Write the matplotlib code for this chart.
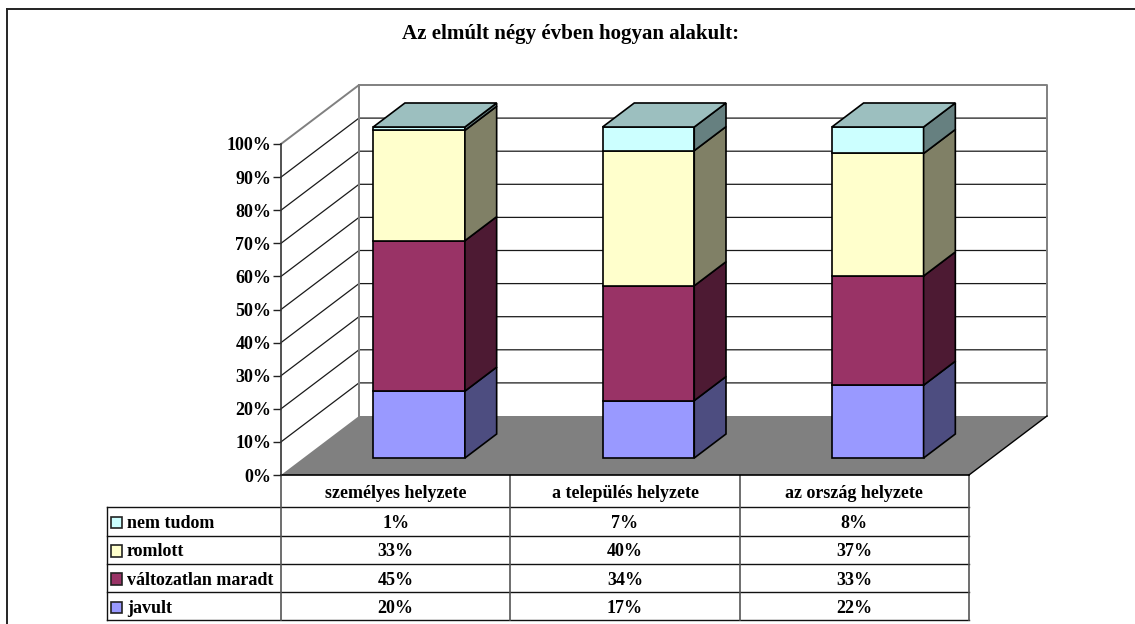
import matplotlib
matplotlib.use('Agg')
import matplotlib.pyplot as plt
from matplotlib.patches import Polygon, Rectangle

plt.rcParams['font.family'] = ['Liberation Serif', 'DejaVu Serif']
plt.rcParams['font.weight'] = 'bold'

W, H = 1135, 624

title = 'Az elmúlt négy évben hogyan alakult:'
categories = ['személyes helyzete', 'a település helyzete', 'az ország helyzete']
series_names = ['javult', 'változatlan maradt', 'romlott', 'nem tudom']
javult = [20, 17, 22]
valtozatlan = [45, 34, 33]
romlott = [33, 40, 37]
nem_tudom = [1, 7, 8]
y_ticks = [0, 10, 20, 30, 40, 50, 60, 70, 80, 90, 100]

series = [javult, valtozatlan, romlott, nem_tudom]
front_cols = ['#9999ff', '#993366', '#ffffcc', '#ccffff']
side_cols = ['#4d4d80', '#4d1a33', '#808066', '#668080']
top_cols = ['#7373bf', '#732650', '#bfbf99', '#9cbfbf']

fig = plt.figure(figsize=(W / 100, H / 100), dpi=100)

# pixel helpers for placing the axes
def px_rect(x0, y0, x1, y1):
    return [x0 / W, 1 - y1 / H, (x1 - x0) / W, (y1 - y0) / H]

# overlay for the outer frame, title and data table (pixel coordinates)
page = fig.add_axes([0, 0, 1, 1], zorder=0)
page.set_xlim(0, W)
page.set_ylim(H, 0)
page.axis('off')

# the front plane of the 3d box is a normal axes: x = category, y = percent
ax = fig.add_axes(px_rect(281, 144, 969, 475), zorder=1)
ax.set_xlim(0, 3)
ax.set_ylim(0, 100)
ax.patch.set_visible(False)
for s in ax.spines.values():
    s.set_visible(False)

# depth of the box in data units
DX = 78 / 688 * 3
DY = 59 / 331 * 100
# bars sit between these fractions of the depth
D0, D1 = 0.288, 0.695
BAR_W = 0.4
BAR_C = 0.504

def pr(x, y, d=0.0):
    return (x + DX * d, y + DY * d)

GRAY = '#808080'
GRID = '#1a1a1a'

# floor
ax.add_patch(Polygon([pr(0, 0), pr(3, 0), pr(3, 0, 1), pr(0, 0, 1)], fc=GRAY, ec='none', clip_on=False, zorder=1))
ax.plot(*zip(pr(0, 0), pr(3, 0)), color='black', lw=1.2, clip_on=False, zorder=2)
ax.plot(*zip(pr(3, 0), pr(3, 0, 1)), color='black', lw=1, clip_on=False, zorder=2)

# gridlines on both walls
for t in y_ticks[1:-1]:
    ax.plot(*zip(pr(0, t), pr(0, t, 1), pr(3, t, 1)), color=GRID, lw=0.9, clip_on=False, zorder=1)

# wall outline
ax.plot(*zip(pr(0, 100), pr(0, 100, 1), pr(3, 100, 1), pr(3, 0, 1)), color=GRAY, lw=1.4, clip_on=False, zorder=1)
ax.plot(*zip(pr(0, 0, 1), pr(0, 100, 1)), color=GRAY, lw=1.4, clip_on=False, zorder=1)
ax.plot([0, 0], [0, 100], color='#333333', lw=1.2, clip_on=False, zorder=2)

# stacked bars, every column scaled to 100 %
for i in range(len(categories)):
    total = sum(s[i] for s in series)
    base = 0
    x0 = i + BAR_C - BAR_W / 2
    x1 = i + BAR_C + BAR_W / 2
    for j, s in enumerate(series):
        top = base + s[i] / total * 100
        ax.add_patch(Polygon([pr(x0, base, D0), pr(x1, base, D0), pr(x1, top, D0), pr(x0, top, D0)],
                             fc=front_cols[j], ec='black', lw=1.2, clip_on=False, zorder=3, joinstyle='miter'))
        ax.add_patch(Polygon([pr(x1, base, D0), pr(x1, base, D1), pr(x1, top, D1), pr(x1, top, D0)],
                             fc=side_cols[j], ec='black', lw=1.2, clip_on=False, zorder=3, joinstyle='miter'))
        base = top
    ax.add_patch(Polygon([pr(x0, 100, D0), pr(x1, 100, D0), pr(x1, 100, D1), pr(x0, 100, D1)],
                         fc=top_cols[3], ec='black', lw=1.2, clip_on=False, zorder=4, joinstyle='miter'))

ax.set_xticks([])
ax.set_yticks(y_ticks)
ax.set_yticklabels([f'{t}%' for t in y_ticks], fontsize=13, fontweight='bold')
ax.tick_params(axis='y', length=5.5, width=1, color='#222222', pad=1.5)

# outer frame, open on the right
page.plot([7.3, 7.3], [H, 9], color='black', lw=1.2)
page.plot([7, W], [9, 9], color='#222222', lw=1.4)

page.text(571, 34, title, ha='center', va='center', fontsize=15.1, fontweight='bold')

# data table
col_x = [281 + 688 / 3 * k for k in range(4)]
row_y = [475, 506.5, 535.5, 563.5, 592, 620]
LEFT = 106.5
TXT_DY = 2.5
for y in row_y[1:]:
    page.plot([LEFT, col_x[-1]], [y, y], color='#111111', lw=1)
for x in col_x:
    page.plot([x, x], [row_y[0], row_y[-1]], color='#555555', lw=1.2)
page.plot([LEFT, LEFT], [row_y[1], row_y[-1]], color='#111111', lw=1)

for k, name in enumerate(categories):
    page.text((col_x[k] + col_x[k + 1]) / 2, (row_y[0] + row_y[1]) / 2 + TXT_DY, name,
              ha='center', va='center', fontsize=13)

# rows run top-down from the last series to the first
for r, j in enumerate(reversed(range(len(series)))):
    yc = (row_y[r + 1] + row_y[r + 2]) / 2
    page.add_patch(Rectangle((110.5, yc - 4.5), 11.5, 11.5, fc=front_cols[j], ec='#222222', lw=1.2))
    page.text(127, yc + TXT_DY, series_names[j], ha='left', va='center', fontsize=13)
    for k in range(len(categories)):
        page.text((col_x[k] + col_x[k + 1]) / 2, yc + TXT_DY, f'{series[j][k]}%',
                  ha='center', va='center', fontsize=13)

fig.savefig('out.png', dpi=100)
